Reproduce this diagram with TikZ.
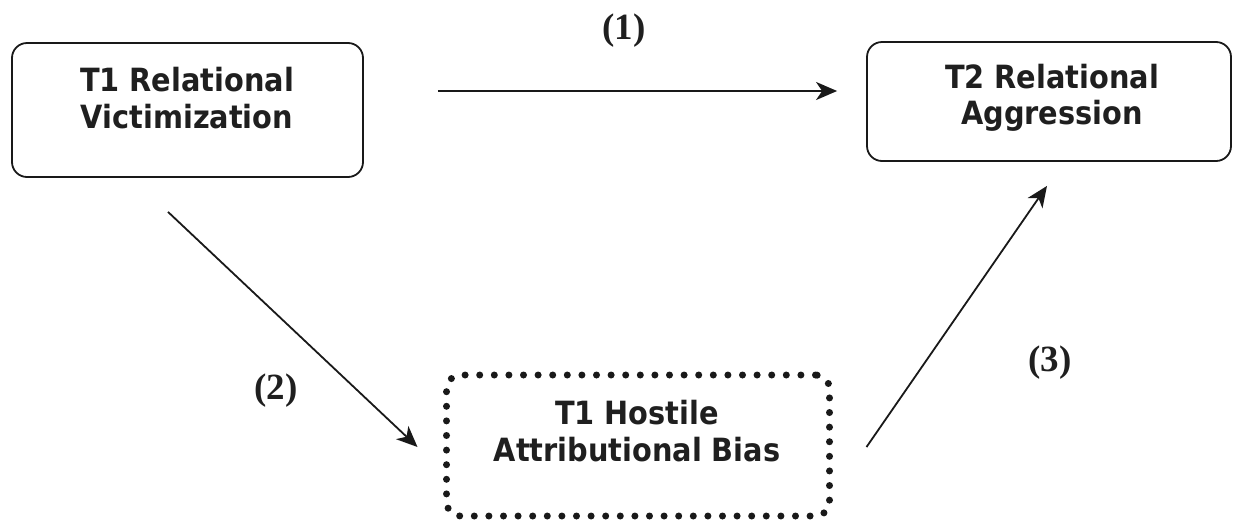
\documentclass[tikz,border=0pt]{standalone}
\usepackage{fontspec}
\setmainfont{DejaVu Sans Condensed}
\newfontfamily\labfont{Liberation Serif}
\usetikzlibrary{arrows.meta,calc}
\begin{document}
\begin{tikzpicture}[x=1pt,y=-1pt,
  box/.style={draw=black!90, line width=1.8pt, rounded corners=15pt, inner sep=0pt},
  dotbox/.style={draw=black!90, line width=7pt, line cap=round, dash pattern=on 0pt off 14.6pt, rounded corners=14pt, inner sep=0pt},
  txt/.style={font=\fontsize{32}{36.5}\selectfont\bfseries, align=center, text=black!88, inner sep=0pt},
  lab/.style={font=\labfont\bfseries\fontsize{37}{40}\selectfont, text=black!88, inner sep=0pt},
  arr/.style={line width=1.8pt, draw=black!90, -{Stealth[length=21pt, width=18pt, inset=6pt]}}
]
\useasboundingbox (0,0) rectangle (1233,520);
% boxes
\node[box, minimum width=351pt, minimum height=134pt] (v) at (187.5,110) {};
\node[box, minimum width=364pt, minimum height=119pt] (a) at (1049,101.5) {};
\node[dotbox, minimum width=383pt, minimum height=141pt] (h) at (638,445.5) {};
% texts
\node[txt] (vt) at (187,98) {T1 Relational\\Victimization};
\node[txt] (at) at (1052,98) {T2 Relational\\Aggression};
\node[txt] (ht) at (637,431) {T1 Hostile\\Attributional Bias};
% arrows
\draw[arr] ($(v.east)+(74,-19)$) -- ($(a.west)+(-29,-10.5)$);
\draw[arr] ($(v.south)+(-19.5,34)$) -- ($(h.west)+(-25.5,1.5)$);
\draw[arr] ($(h.east)+(33.5,1.5)$) -- ($(a.south)+(-2,24)$);
% labels
\node[lab] (l1) at (624,31) {(1)};
\node[lab] (l2) at (276,391) {(2)};
\node[lab] (l3) at (1050,363) {(3)};
\end{tikzpicture}
\end{document}
